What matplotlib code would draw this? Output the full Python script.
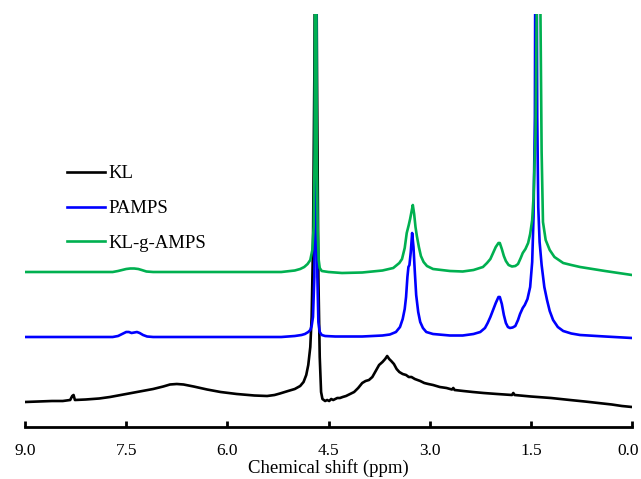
import numpy as np
import matplotlib.pyplot as plt
import matplotlib.transforms as mtransforms

plt.rcParams['font.family'] = ['Liberation Serif', 'DejaVu Serif']

# KL (black), intensity relative to its own baseline
kl_ppm = [9.00, 8.80, 8.60, 8.44, 8.33, 8.30, 8.28, 8.26, 8.10, 7.90, 7.74, 7.50,
          7.30, 7.10, 6.95, 6.85, 6.75, 6.65, 6.50, 6.30, 6.10, 5.86, 5.60, 5.41,
          5.30, 5.22, 5.10, 5.00, 4.92, 4.87, 4.83, 4.80, 4.77, 4.75, 4.73, 4.71,
          4.69, 4.67, 4.65, 4.63, 4.61, 4.59, 4.57, 4.55, 4.52, 4.49, 4.46, 4.43,
          4.40, 4.37, 4.33, 4.29, 4.24, 4.18, 4.12, 4.06, 4.00, 3.95, 3.90, 3.85,
          3.80, 3.75, 3.70, 3.66, 3.63, 3.60, 3.57, 3.53, 3.49, 3.45, 3.40, 3.35,
          3.31, 3.27, 3.22, 3.18, 3.14, 3.08, 3.02, 2.95, 2.85, 2.75, 2.67, 2.65,
          2.63, 2.50, 2.36, 2.20, 2.00, 1.78, 1.76, 1.74, 1.50, 1.20, 0.92, 0.70,
          0.50, 0.30, 0.15, 0.00]
kl_int = [25, 25.5, 26, 26, 27, 31, 32, 27, 27.5, 28.5, 30, 33,
          35.5, 38, 40.5, 42.5, 43, 42.5, 40.5, 37.5, 35, 33, 31.5, 31,
          32, 33.5, 36, 38, 41, 45, 52, 62, 80, 110, 180, 350,
          600, 350, 150, 70, 35, 28, 27, 26, 27, 26, 28, 27,
          28, 29, 29, 30, 31, 33, 35, 39, 44, 46, 47, 50,
          56, 62, 65, 68, 71, 68, 66, 63, 58, 55, 53, 52,
          50, 50, 48, 47, 46, 44, 43, 42, 40, 39, 37.5, 39,
          37, 36, 35, 34, 33, 32, 34, 32, 30.5, 29, 27, 25.5,
          24, 22.5, 21, 20]

# PAMPS (blue)
pamps_ppm = [9.00, 7.70, 7.62, 7.56, 7.50, 7.46, 7.42, 7.38, 7.34, 7.30, 7.25, 7.19,
             7.10, 5.20, 5.00, 4.90, 4.85, 4.80, 4.77, 4.75, 4.73, 4.71, 4.70, 4.69,
             4.675, 4.665, 4.65, 4.63, 4.60, 4.55, 4.40, 4.00, 3.70, 3.59, 3.50, 3.44,
             3.40, 3.37, 3.35, 3.33, 3.315, 3.30, 3.28, 3.26, 3.24, 3.22, 3.20, 3.17,
             3.14, 3.10, 3.05, 2.95, 2.70, 2.51, 2.35, 2.25, 2.18, 2.14, 2.10, 2.06,
             2.02, 1.98, 1.96, 1.93, 1.90, 1.87, 1.84, 1.81, 1.77, 1.73, 1.69, 1.66,
             1.62, 1.59, 1.55, 1.51, 1.48, 1.46, 1.44, 1.425, 1.405, 1.39, 1.37, 1.34,
             1.30, 1.26, 1.22, 1.17, 1.10, 1.02, 0.90, 0.77, 0.40, 0.00]
pamps_int = [0, 0, 1, 3, 5, 5, 4, 4.5, 5, 4, 2, 0.5,
             0, 0, 1, 2, 3, 5, 7, 11, 20, 60, 150, 600,
             150, 60, 15, 5, 2, 1, 0.5, 0.5, 1.5, 2.5, 5, 10,
             18, 28, 40, 60, 70, 72, 85, 104, 90, 65, 42, 25,
             15, 9, 5, 3, 1.5, 1.5, 3, 5, 9, 14, 20, 27,
             34, 40, 40, 33, 22, 14, 10, 9, 9.5, 11, 17, 23,
             29, 32, 38, 50, 75, 120, 220, 600, 220, 130, 95, 72,
             50, 37, 26, 17, 10, 6, 3.5, 2, 0.5, -1]

# KL-g-AMPS (green)
klg_ppm = [9.00, 7.70, 7.62, 7.56, 7.50, 7.44, 7.38, 7.32, 7.27, 7.20, 7.10, 5.20,
           5.00, 4.92, 4.86, 4.81, 4.77, 4.74, 4.72, 4.705, 4.69, 4.675, 4.66, 4.645,
           4.63, 4.60, 4.50, 4.30, 4.00, 3.70, 3.54, 3.45, 3.41, 3.37, 3.34, 3.31,
           3.29, 3.27, 3.25, 3.23, 3.21, 3.19, 3.16, 3.13, 3.09, 3.04, 2.95, 2.70,
           2.51, 2.35, 2.21, 2.15, 2.10, 2.06, 2.02, 1.98, 1.96, 1.93, 1.90, 1.87,
           1.83, 1.78, 1.73, 1.69, 1.65, 1.62, 1.58, 1.54, 1.51, 1.48, 1.46, 1.43,
           1.41, 1.385, 1.36, 1.34, 1.32, 1.28, 1.22, 1.15, 1.02, 0.90, 0.77, 0.40,
           0.00]
klg_int = [0, 0, 1, 2, 3, 3.5, 3.5, 3, 2, 0.5, 0, 0,
           1.5, 3, 5, 8, 12, 22, 45, 120, 600, 120, 40, 12,
           4, 1, 0, -1, -0.5, 1.5, 4, 9, 13, 24, 39, 47,
           53, 60, 67, 58, 45, 36, 25, 16, 10, 6, 3, 1,
           0.5, 2, 5, 9, 13, 19, 25, 29, 29, 23, 16, 11,
           7, 5.5, 6, 8, 14, 19, 23, 29, 38, 52, 75, 140,
           280, 600, 280, 120, 50, 32, 22, 15, 9, 7, 5, 1,
           -3]

names = ['KL', 'PAMPS', 'KL-g-AMPS']
colors = ['#000000', '#0000ff', '#00b050']
offsets = [0, 90, 155]

fig = plt.figure(figsize=(6.41, 4.79), dpi=100)
ax = fig.add_axes([25/641, 52/479, 607/641, 413/479])

spectra = [(kl_ppm, kl_int), (pamps_ppm, pamps_int), (klg_ppm, klg_int)]
for (x, y), name, c, off in zip(spectra, names, colors, offsets):
    ax.plot(x, np.array(y) + off, color=c, lw=1.9, label=name)

ax.set_xlim(9.0, 0.0)
ax.set_ylim(0, 413)
ax.set_xticks([9.0, 7.5, 6.0, 4.5, 3.0, 1.5, 0.0])
ax.set_xticklabels(['9.0', '7.5', '6.0', '4.5', '3.0', '1.5', '0.0'])
ax.set_yticks([])
for s in ['left', 'top', 'right']:
    ax.spines[s].set_visible(False)
ax.spines['bottom'].set_linewidth(2.0)
ax.tick_params(axis='x', direction='in', length=4, width=2.0, labelsize=12.5, pad=11.5)
ax.set_xlabel('Chemical shift (ppm)', fontsize=13.5, labelpad=0)

# nudge the last tick label so it stays inside the figure
last = ax.get_xticklabels()[-1]
last.set_transform(last.get_transform() +
                   mtransforms.ScaledTranslation(-4/100, 0, fig.dpi_scale_trans))

ax.legend(loc='upper left', bbox_to_anchor=(67/641, (479-165)/479),
          bbox_transform=fig.transFigure, frameon=False, fontsize=13.5,
          handlelength=2.0, handletextpad=0.2, labelspacing=0.95,
          borderpad=0, borderaxespad=0)

plt.savefig('out.png', dpi=100)
